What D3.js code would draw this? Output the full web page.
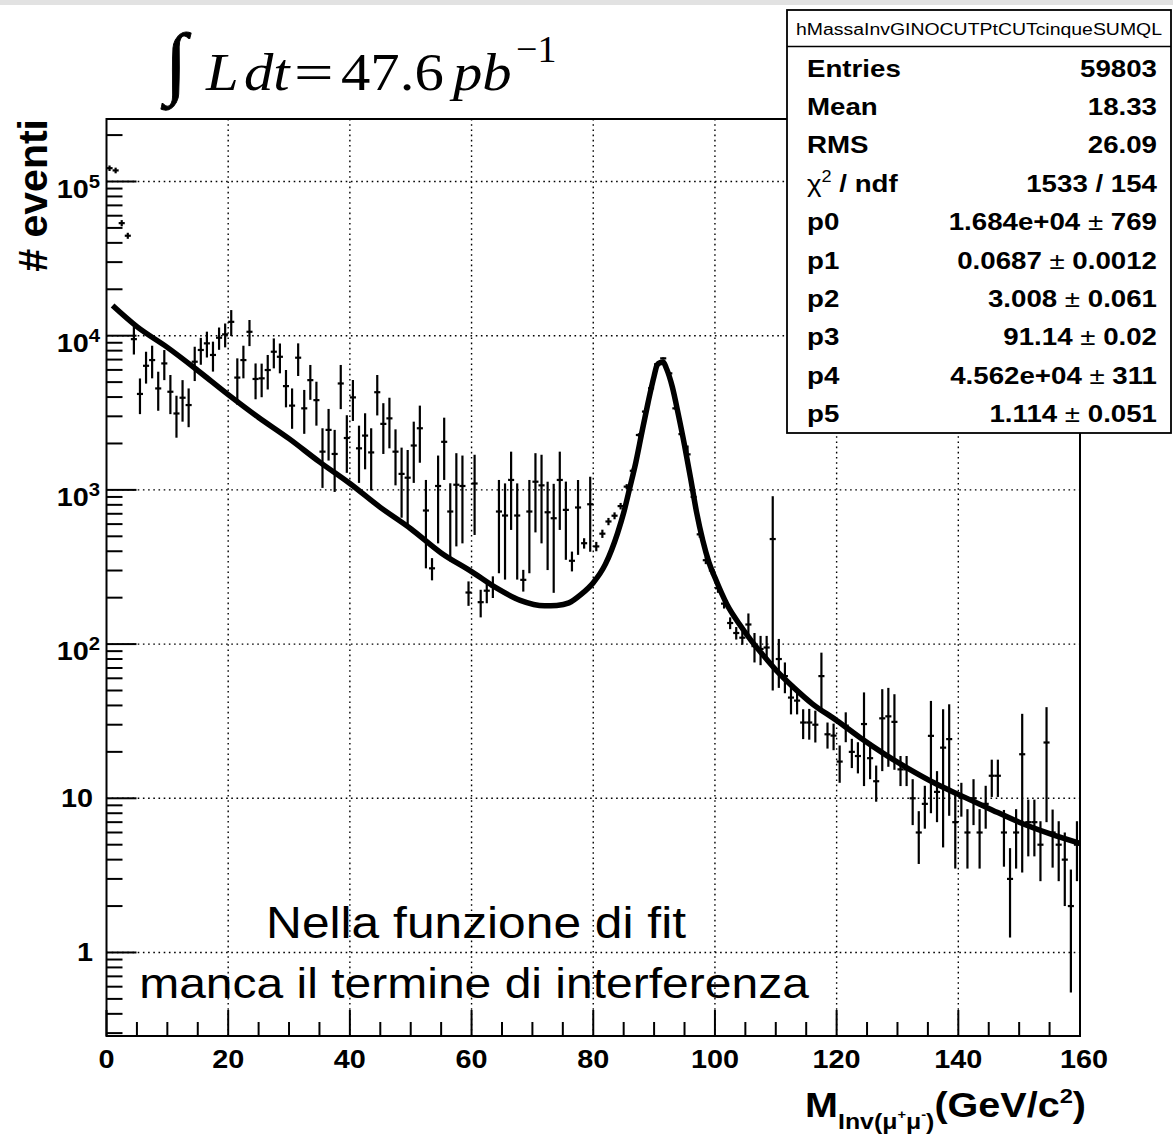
<!DOCTYPE html>
<html><head><meta charset="utf-8">
<script src="https://cdn.jsdelivr.net/npm/d3@7"></script>
<style>html,body{margin:0;padding:0;background:#fff}svg{display:block}</style>
</head><body>
<svg id="c" width="1173" height="1139"></svg>
<script>
// ---------------- data ----------------
const binCenters = [
0.5,1.5,2.5,3.5,4.5,5.5,6.5,7.5,8.5,9.5,
10.5,11.5,12.5,13.5,14.5,15.5,16.5,17.5,18.5,19.5,
20.5,21.5,22.5,23.5,24.5,25.5,26.5,27.5,28.5,29.5,
30.5,31.5,32.5,33.5,34.5,35.5,36.5,37.5,38.5,39.5,
40.5,41.5,42.5,43.5,44.5,45.5,46.5,47.5,48.5,49.5,
50.5,51.5,52.5,53.5,54.5,55.5,56.5,57.5,58.5,59.5,
60.5,61.5,62.5,63.5,64.5,65.5,66.5,67.5,68.5,69.5,
70.5,71.5,72.5,73.5,74.5,75.5,76.5,77.5,78.5,79.5,
80.5,81.5,82.5,83.5,84.5,85.5,86.5,87.5,88.5,89.5,
90.5,91.5,92.5,93.5,94.5,95.5,96.5,97.5,98.5,99.5,
100.5,101.5,102.5,103.5,104.5,105.5,106.5,107.5,108.5,109.5,
110.5,111.5,112.5,113.5,114.5,115.5,116.5,117.5,118.5,119.5,
120.5,121.5,122.5,123.5,124.5,125.5,126.5,127.5,128.5,129.5,
130.5,131.5,132.5,133.5,134.5,135.5,136.5,137.5,138.5,139.5,
140.5,141.5,142.5,143.5,144.5,145.5,146.5,147.5,148.5,149.5,
150.5,151.5,152.5,153.5,154.5,155.5,156.5,157.5,158.5,159.5];
const binWidth = 1;
const counts = [
122000,118000,53700,44500,9500,4190,6380,6950,4550,6610,
4330,3130,3960,3550,6780,8080,8920,7500,9700,10200,
12300,5350,6950,10600,5240,5290,5990,7870,7300,4710,
3520,7200,3380,5150,3820,1770,2450,1710,4900,2170,
3980,1860,2250,1750,4300,2680,2910,1770,1270,1200,
1940,2510,735,310,1060,2050,724,1080,1060,216,
1100,187,222,237,724,682,1160,682,261,724,
1130,1070,716,655,1160,742,347,769,451,807,
430,520,624,680,785,1050,1330,2270,3220,4560,
6530,7130,5700,3380,2300,1700,900,515,350,300,
230,183,137,118,110,134,97,93,95,480,
80,62,45,43,31,31,30,62,26,25.5,
17.3,29.6,20,18.8,30.3,18.2,12.9,33,34,31.3,
15.4,15.4,10,6,9.2,25.4,11,21.3,24.2,7,
10.1,6,10,6,9.2,14,14,6,3,6,
19.3,7,7,5,23,6,5,4,2,5];
const errors = [
5000,5000,2500,2000,1950,1090,1490,1660,1290,1460,
1230,950,1190,1000,1700,1600,1700,1650,1600,1800,
2360,1780,1660,2040,1370,1300,1510,1730,1600,1280,
1030,1720,1070,1310,1210,740,900,740,1560,880,
1180,750,890,760,1260,970,1050,700,610,615,
830,1010,425,51,610,890,380,650,610,39,
590,38,38,38,436,420,610,420,42,436,
600,620,414,440,610,390,51,390,35,410,
30,32,34,35,38,40,50,60,70,80,
90,100,90,70,60,240,50,25,20,18,
15,13,12,11,11,24,21,20,18,430,
28,14,10,8,6.8,7,7,26,5,5,
4.7,6.5,4.3,4.3,18.3,4.9,3.4,18,18,16,
3.4,3.4,3.3,2.25,2.85,17.4,4,16.5,16.5,3.5,
2.5,2.5,3.3,2.5,2.85,3.8,3.8,2.4,1.75,2.5,
16,2.8,2.8,2.1,16,2.45,2.1,2,1.45,2.1];

const fitX = [1,5,10,15,20,25,30,35,40,45,50,55,60,64,68,72,74,76,78,80,
  82,84,85,86,87,88,89,90,90.5,91,91.5,92,93,94,95,96,97,98,99,100,
  102,104,106,108,110,113,116,120,124,128,132,136,140,145,150,155,160];
const fitY = [15700,11450,8400,5950,4150,2950,2150,1520,1100,770,560,390,295,232,192,177,178,185,210,250,
  330,525,710,1030,1510,2370,3670,5470,6460,6700,6750,6170,4650,3060,1950,1190,710,470,340,270,
  180,135,105,84,68,52,41,32,24.5,19.2,15.4,12.6,10.6,8.6,7.0,5.9,5.1];

const xMajorTicks = [0,20,40,60,80,100,120,140,160];
const xTickLabels = ["0","20","40","60","80","100","120","140","160"];
const yDecades = [1,10,100,1000,10000,100000];
const yLabelBase = ["1","10","10","10","10","10"];
const yLabelExp = ["","","2","3","4","5"];

const statsTitle = "hMassaInvGINOCUTPtCUTcinqueSUMQL";
const statsLabels = ["Entries","Mean","RMS","chi2","p0","p1","p2","p3","p4","p5"];
const statsValues = ["59803","18.33","26.09","1533 / 154","1.684e+04","0.0687","3.008","91.14","4.562e+04","1.114"];
const statsErrors = ["","","","","769","0.0012","0.061","0.02","311","0.051"];

// ---------------- layout ----------------
const W = 1173, H = 1139;
const L = 106.5, R = 1080, T = 119, B = 1036;
const SX = 1.13;
const SANS = "'Liberation Sans', Arial, Helvetica, sans-serif";
const SERIF = "'Liberation Serif', 'Times New Roman', serif";

const svg = d3.select('#c');
svg.append('rect').attr('width', W).attr('height', H).attr('fill', '#fff');
svg.append('rect').attr('width', W).attr('height', 5).attr('fill', '#e2e2e2');

const x = d3.scaleLinear().domain([0, 160]).range([L, R]);
const y = d3.scaleLog().domain([0.2873, 254300]).range([B, T]);

function txt(parent, px, py, opts) {
  return parent.append('text')
    .attr('transform', `translate(${px},${py}) scale(${opts.sx ?? SX},1)`)
    .attr('font-family', opts.family || SANS)
    .attr('font-size', opts.size)
    .attr('font-weight', opts.weight || 'normal')
    .attr('font-style', opts.style || 'normal')
    .attr('text-anchor', opts.anchor || 'start')
    .attr('fill', '#000');
}

// grid
const grid = svg.append('g').attr('stroke', '#000').attr('stroke-width', 1.4).attr('stroke-dasharray', '1.6,3.6');
xMajorTicks.filter(v => v > 0 && v < 160).forEach(v => {
  grid.append('line').attr('x1', x(v)).attr('x2', x(v)).attr('y1', T).attr('y2', B);
});
yDecades.forEach(v => {
  grid.append('line').attr('x1', L).attr('x2', R).attr('y1', y(v)).attr('y2', y(v));
});

// ticks
const ticks = svg.append('g').attr('stroke', '#000').attr('stroke-width', 2);
y.ticks().forEach(v => {
  const lg = Math.log10(v);
  const major = Math.abs(lg - Math.round(lg)) < 1e-9;
  const yy = y(v);
  if (yy < T - 0.5 || yy > B + 0.5) return;
  ticks.append('line').attr('x1', L).attr('x2', L + (major ? 30 : 16)).attr('y1', yy).attr('y2', yy);
});
d3.range(0, 161, 5).forEach(v => {
  const major = v % 20 === 0;
  ticks.append('line').attr('x1', x(v)).attr('x2', x(v)).attr('y1', B).attr('y2', B - (major ? 26 : 14));
});

// data points with error bars
const pts = svg.append('g').attr('stroke', '#000').attr('stroke-width', 2.2).attr('fill', 'none');
binCenters.forEach((c, i) => {
  const v = counts[i], e = errors[i];
  if (!(v > 0)) return;
  const yTop = Math.max(y(v + e), T);
  const lo = v - e;
  const yBot = lo > y.domain()[0] ? y(lo) : B;
  pts.append('line').attr('x1', x(c)).attr('x2', x(c)).attr('y1', yTop).attr('y2', yBot);
  pts.append('line').attr('x1', x(c - binWidth / 2)).attr('x2', x(c + binWidth / 2)).attr('y1', y(v)).attr('y2', y(v));
});

// fit curve
const fitData = fitX.map((d, i) => [d, fitY[i]]);
svg.append('path').datum(fitData)
  .attr('d', d3.line().x(d => x(d[0])).y(d => y(d[1])).curve(d3.curveMonotoneX))
  .attr('fill', 'none').attr('stroke', '#000').attr('stroke-width', 5.5).attr('stroke-linejoin', 'round');

// frame
svg.append('rect').attr('x', L).attr('y', T).attr('width', R - L).attr('height', B - T)
  .attr('fill', 'none').attr('stroke', '#000').attr('stroke-width', 2);

// x tick labels
xMajorTicks.forEach((v, i) => {
  txt(svg, x(v) + (v === 160 ? 4 : 0), 1068, {size: 25.5, weight: 'bold', anchor: 'middle'}).text(xTickLabels[i]);
});
// y tick labels
yDecades.forEach((v, i) => {
  const gy = y(v);
  if (yLabelExp[i] === "") {
    txt(svg, 93, gy + 9, {size: 25.5, weight: 'bold', anchor: 'end'}).text(yLabelBase[i]);
  } else {
    const t = txt(svg, 100, gy + 16, {size: 25.5, weight: 'bold', anchor: 'end'});
    t.append('tspan').text(yLabelBase[i]);
    t.append('tspan').attr('font-size', 18).attr('dy', -10).text(yLabelExp[i]);
  }
});

// y axis title
svg.append('text')
  .attr('transform', `translate(47,${T}) rotate(-90)`)
  .attr('font-family', SANS).attr('font-size', 41).attr('font-weight', 'bold')
  .attr('text-anchor', 'end').text('# eventi');

// x axis title
{
  const t = txt(svg, 1086, 1117, {size: 35, weight: 'bold', anchor: 'end'});
  t.append('tspan').text('M');
  t.append('tspan').attr('font-size', 22).attr('dy', 12).text('Inv(\u03bc');
  t.append('tspan').attr('font-size', 13).attr('dy', -10).text('+');
  t.append('tspan').attr('font-size', 22).attr('dy', 10).text('\u03bc');
  t.append('tspan').attr('font-size', 13).attr('dy', -10).text('-');
  t.append('tspan').attr('font-size', 22).attr('dy', 10).text(')');
  t.append('tspan').attr('font-size', 35).attr('dy', -12).text('(GeV/c');
  t.append('tspan').attr('font-size', 21).attr('dy', -14).text('2');
  t.append('tspan').attr('font-size', 35).attr('dy', 14).text(')');
}

// annotation
txt(svg, 476, 938, {size: 44, anchor: 'middle'}).text('Nella funzione di fit');
txt(svg, 474, 998, {size: 42.5, anchor: 'middle'}).text('manca il termine di interferenza');

// integral luminosity
txt(svg, 165, 89, {size: 80, family: SERIF, sx: 1}).attr('stroke', '#000').attr('stroke-width', 0.9).text('\u222b');
txt(svg, 206, 90, {size: 52, family: SERIF, style: 'italic'}).text('L');
txt(svg, 244, 90, {size: 52, family: SERIF, style: 'italic'}).text('dt');
txt(svg, 294, 90, {size: 52, family: SERIF, sx: 1.35}).text('=');
txt(svg, 341, 90, {size: 52, family: SERIF}).text('47.6');
txt(svg, 453, 90, {size: 52, family: SERIF, style: 'italic'}).text('pb');
txt(svg, 516, 62, {size: 38, family: SERIF, sx: 1}).text('\u22121');

// stats box
const SB = {x: 787, y: 10, w: 384, h: 423, sep: 46.5};
const sb = svg.append('g');
sb.append('rect').attr('x', SB.x).attr('y', SB.y).attr('width', SB.w).attr('height', SB.h)
  .attr('fill', '#fff').attr('stroke', '#000').attr('stroke-width', 1.8);
sb.append('line').attr('x1', SB.x).attr('x2', SB.x + SB.w).attr('y1', SB.sep).attr('y2', SB.sep)
  .attr('stroke', '#000').attr('stroke-width', 1.6);
sb.append('text').attr('x', SB.x + SB.w / 2).attr('y', 35).attr('text-anchor', 'middle')
  .attr('font-family', SANS).attr('font-size', 16).attr('textLength', 366).attr('lengthAdjust', 'spacingAndGlyphs')
  .text(statsTitle);
const rowY = [77, 115, 153, 191.5, 230, 268.5, 307, 345, 383.5, 422];
statsLabels.forEach((lab, i) => {
  const ty = rowY[i];
  const tl = txt(sb, 807, ty, {size: 24.5, weight: 'bold'});
  if (lab === 'chi2') {
    tl.append('tspan').attr('font-weight', 'normal').text('\u03c7');
    tl.append('tspan').attr('font-size', 16).attr('dy', -10).attr('font-weight', 'normal').text('2');
    tl.append('tspan').attr('dy', 10).text(' / ndf');
  } else {
    tl.text(lab);
  }
  const tv = txt(sb, 1157, ty, {size: 24.5, weight: 'bold', anchor: 'end'});
  tv.append('tspan').text(statsValues[i]);
  if (statsErrors[i] !== "") {
    tv.append('tspan').attr('font-weight', 'normal').text(' \u00b1 ');
    tv.append('tspan').text(statsErrors[i]);
  }
});
</script>
</body></html>
